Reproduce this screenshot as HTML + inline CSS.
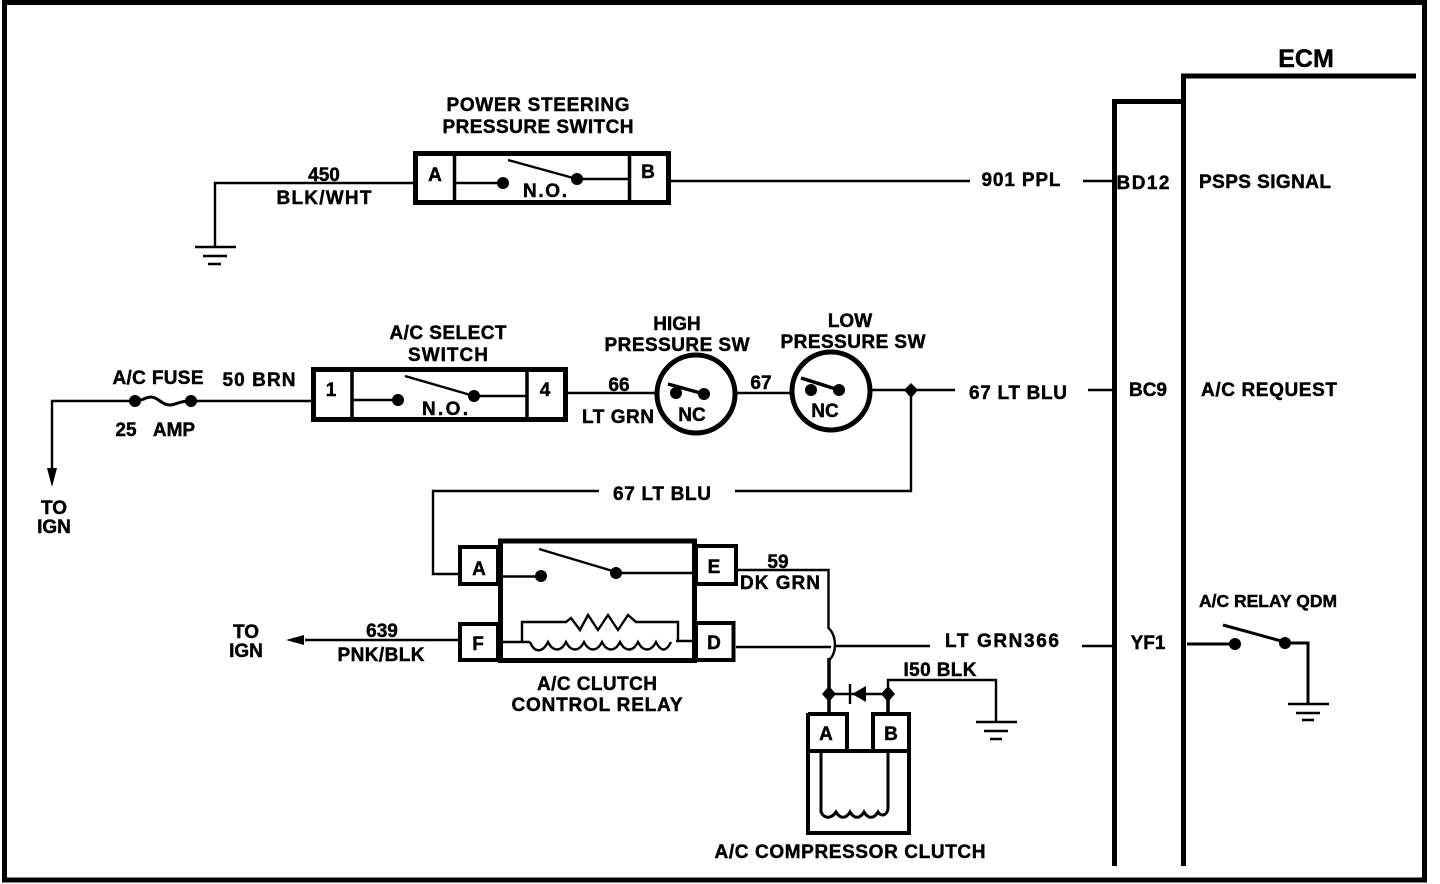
<!DOCTYPE html>
<html>
<head>
<meta charset="utf-8">
<style>
html,body{margin:0;padding:0;background:#fff;width:1440px;height:884px;overflow:hidden}
svg{display:block}
text{font-family:"Liberation Sans",sans-serif;font-weight:700;font-size:19px;fill:#000;text-anchor:middle;stroke:#000;stroke-width:.45}
</style>
</head>
<body>
<svg width="1440" height="884" viewBox="0 0 1440 884" xmlns="http://www.w3.org/2000/svg">
<g fill="none" stroke="#000" stroke-width="2.400">
<!-- frame -->
<path d="M4.500 2.500H1424.500V880H4.500Z" stroke-width="5"/>
<!-- ECM -->
<path d="M1416 76H1183.500V866" stroke-width="5"/>
<path d="M1181 101.500H1114.500V866" stroke-width="5"/>

<!-- power steering switch -->
<rect x="415.500" y="153.500" width="253" height="49" stroke-width="5"/>
<path d="M454.500 153V202M629.500 153V202" stroke-width="3.500"/>
<path d="M215 247V183H415M456 183H501M508 160L577 179M577 179H629M669 181H970M1083 181H1114"/>
<path d="M195 247H236M203 256H227M208 264H221"/>

<!-- A/C select -->
<rect x="313.500" y="369.500" width="252" height="50" stroke-width="5"/>
<path d="M352 369V419M527 369V419" stroke-width="3.500"/>
<path d="M353 400H398M405 376L474 396M474 396H527M566 393H655M736 393H790M870 390H955M1088 390H1114"/>
<path d="M311 401H189M135 401H52V470"/>
<path d="M135 401C146 401 148 392 160 401C172 410 175 401 189 401" stroke-width="3"/>
<path d="M47 468L52 487L57 468Z" fill="#000" stroke="none"/>

<!-- pressure switches -->
<circle cx="696" cy="394" r="39" stroke-width="5"/>
<circle cx="831" cy="391" r="39" stroke-width="5"/>
<path d="M668 384L704 394M801 378L839 390" stroke-width="3.500"/>

<!-- 67 LT BLU feed -->
<path d="M911 391V491H735M599 491H433V574H458"/>

<!-- relay -->
<path d="M500.500 541H694.500V660.500H500.500Z" stroke-width="5"/>
<path d="M460 547H498V584H460ZM460 624H498V660H460ZM696 546H736V584H696ZM696 623H733.500V660H696Z" stroke-width="4"/>
<path d="M503 576.500H541M539 549L616 572M616 573H694"/>
<path d="M503 642H530M522 642V622H566L571 618L580 630L588 615L598 630L608 615L618 630L628 615L636 622H678V642M676 641H694"/>
<path d="M530 642C535 654 543 652 548 642C553 652 561 652 566 642C571 652 579 652 584 642C589 652 597 652 602 642C607 652 615 652 620 642C625 652 633 652 638 642C643 652 651 652 656 642C661 652 666 652 671 642"/>
<path d="M736 647H831M836 646H930M1082 646H1113"/>
<path d="M738 570H828.500V628C837 636 837 654 829 660"/>
<path d="M829 658V712" stroke-width="3.500"/>
<path d="M305 640H459"/>
<path d="M304 635L286 640L304 645Z" fill="#000" stroke="none"/>

<!-- diode + clutch -->
<path d="M830 694H888M888 694V680H996V722"/>
<path d="M888 694V712" stroke-width="3.500"/>
<path d="M850 684V704"/>
<path d="M852 694L866 686V702Z" fill="#000" stroke="none"/>
<path d="M976 722H1017M984 731H1008M990 739H1002"/>
<path d="M808 713V833H909V751H808" stroke-width="4"/>
<path d="M808 714H847V751M873 751V714H909V751" stroke-width="4"/>
<path d="M821 752V812C825 820 832 818 836 812C840 819 846 819 850 812C854 819 860 819 864 812C868 819 874 819 878 812C882 818 888 814 888 808V752" stroke-width="3"/>

<!-- QDM -->
<path d="M1187 644H1235M1223 625L1285 642M1285 643H1308V703" stroke-width="3"/>
<path d="M1288 704H1329M1296 713H1320M1302 720H1314"/>
</g>

<g fill="#000">
<circle cx="503" cy="183" r="6"/><circle cx="577" cy="179" r="6"/>
<circle cx="398" cy="400" r="6"/><circle cx="474" cy="396" r="6"/>
<circle cx="135" cy="401" r="6"/><circle cx="191" cy="401" r="6"/>
<circle cx="676" cy="393" r="6"/><circle cx="704" cy="394" r="6"/>
<circle cx="811" cy="390" r="6"/><circle cx="839" cy="390" r="6"/>
<path d="M911 383L918 390L911 398L904 390Z"/>
<circle cx="541" cy="576" r="6"/><circle cx="616" cy="573" r="6"/>
<path d="M829 686L836 694L829 702L822 694Z"/>
<path d="M888 686L895 694L888 702L881 694Z"/>
<circle cx="1235" cy="644" r="6"/><circle cx="1285" cy="643" r="6"/>
</g>

<text x="1306" y="67" style="font-size:25px">ECM</text>
<text x="538" y="111" textLength="183" lengthAdjust="spacing">POWER STEERING</text>
<text x="538" y="133" textLength="191" lengthAdjust="spacing">PRESSURE SWITCH</text>
<text x="324" y="181">450</text>
<text x="324" y="204" textLength="95" lengthAdjust="spacing">BLK/WHT</text>
<text x="435" y="181">A</text>
<text x="648" y="178">B</text>
<text x="545" y="197" textLength="44" lengthAdjust="spacing">N.O.</text>
<text x="1021" y="186" textLength="79" lengthAdjust="spacing">901 PPL</text>
<text x="1143" y="189" textLength="53" lengthAdjust="spacing">BD12</text>
<text x="1265" y="188" textLength="132" lengthAdjust="spacing">PSPS SIGNAL</text>

<text x="448" y="339" textLength="117" lengthAdjust="spacing">A/C  SELECT</text>
<text x="448" y="361" textLength="80" lengthAdjust="spacing">SWITCH</text>
<text x="677" y="330">HIGH</text>
<text x="677" y="351" textLength="145" lengthAdjust="spacing">PRESSURE SW</text>
<text x="850" y="327">LOW</text>
<text x="853" y="348" textLength="145" lengthAdjust="spacing">PRESSURE SW</text>
<text x="158" y="384" textLength="91" lengthAdjust="spacing">A/C FUSE</text>
<text x="259" y="386" textLength="73" lengthAdjust="spacing">50 BRN</text>
<text x="126" y="436">25</text>
<text x="174" y="436">AMP</text>
<text x="331" y="396">1</text>
<text x="545" y="396">4</text>
<text x="445" y="415" textLength="46" lengthAdjust="spacing">N.O.</text>
<text x="619" y="391">66</text>
<text x="618" y="423" textLength="72" lengthAdjust="spacing">LT GRN</text>
<text x="761" y="389">67</text>
<text x="692" y="421">NC</text>
<text x="825" y="417">NC</text>
<text x="1018" y="399" textLength="98" lengthAdjust="spacing">67 LT BLU</text>
<text x="1148" y="396">BC9</text>
<text x="1269" y="396" textLength="136" lengthAdjust="spacing">A/C REQUEST</text>
<text x="54" y="514">TO</text>
<text x="54" y="533">IGN</text>
<text x="662" y="500" textLength="98" lengthAdjust="spacing">67 LT BLU</text>

<text x="479" y="575">A</text>
<text x="478" y="650">F</text>
<text x="714" y="573">E</text>
<text x="714" y="649">D</text>
<text x="778" y="568">59</text>
<text x="780" y="589" textLength="80" lengthAdjust="spacing">DK GRN</text>
<text x="382" y="637">639</text>
<text x="381" y="661" textLength="87" lengthAdjust="spacing">PNK/BLK</text>
<text x="246" y="638">TO</text>
<text x="246" y="657">IGN</text>
<text x="1002" y="647" textLength="114" lengthAdjust="spacing">LT GRN366</text>
<text x="1148" y="649">YF1</text>
<text x="1268" y="607" style="font-size:17.500px">A/C RELAY QDM</text>
<text x="597" y="690" textLength="120" lengthAdjust="spacing">A/C CLUTCH</text>
<text x="597" y="711" textLength="171" lengthAdjust="spacing">CONTROL RELAY</text>
<text x="940" y="676" textLength="73" lengthAdjust="spacing">I50 BLK</text>
<text x="826" y="740">A</text>
<text x="891" y="740">B</text>
<text x="850" y="858" textLength="271" lengthAdjust="spacing">A/C COMPRESSOR CLUTCH</text>
</svg>
</body>
</html>
